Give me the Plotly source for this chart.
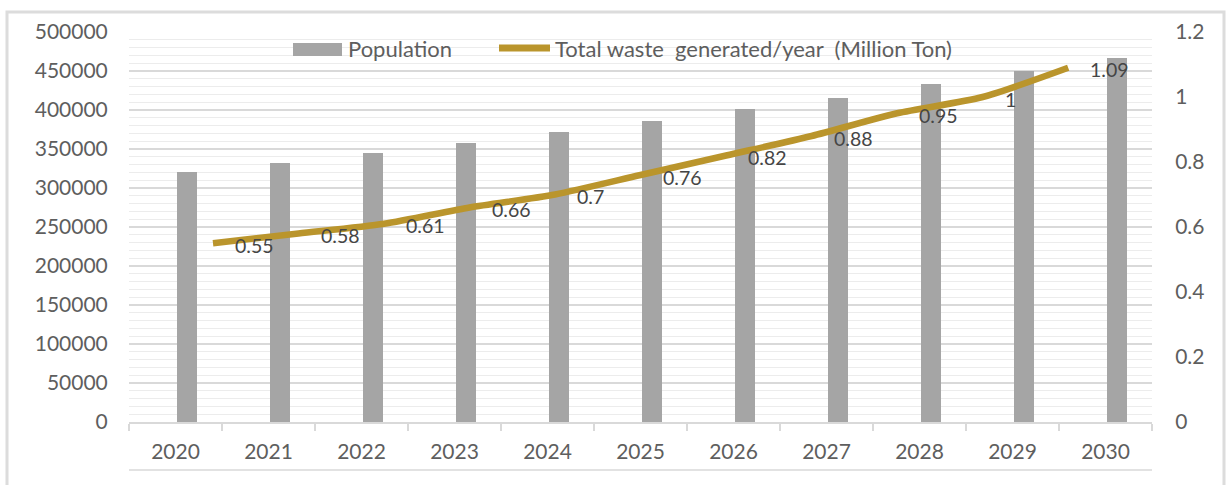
import plotly.graph_objects as go

years = ["2020", "2021", "2022", "2023", "2024", "2025", "2026", "2027", "2028", "2029", "2030"]
year_nums = [2020, 2021, 2022, 2023, 2024, 2025, 2026, 2027, 2028, 2029, 2030]
population = [320000, 332000, 344500, 357500, 371500, 386000, 401500, 416000, 433500, 450000, 467000]
waste = [0.55, 0.58, 0.61, 0.66, 0.7, 0.76, 0.82, 0.88, 0.95, 1, 1.09]
waste_labels = ["0.55", "0.58", "0.61", "0.66", "0.7", "0.76", "0.82", "0.88", "0.95", "1", "1.09"]

BAR_COLOR = "#A5A5A5"
LINE_COLOR = "#BA952C"
TEXT = "#5E5E5E"
GRID = "#D9D9D9"
FONT = "Lato"

W, H = 1227, 485
L, R, T, B = 129, 75, 32, 63
PW, PH = W - L - R, H - T - B


def px(x):
    return (x - L) / PW


def py(y):
    return (H - B - y) / PH


fig = go.Figure()
fig.add_trace(go.Bar(
    x=years, y=population, name="Population",
    marker=dict(color=BAR_COLOR, line=dict(width=0)),
    offset=0.02, width=0.21, showlegend=False,
))
fig.add_trace(go.Scatter(
    x=year_nums, y=waste, name="Total waste  generated/year  (Million Ton)",
    mode="lines", line=dict(color=LINE_COLOR, width=6.5, shape="spline", smoothing=0.7),
    xaxis="x2", yaxis="y2", showlegend=False,
))

for xv, yv, lab in zip(year_nums, waste, waste_labels):
    fig.add_annotation(x=xv, y=yv, xref="x2", yref="y2", text=lab, showarrow=False,
                       xanchor="left", yanchor="middle", xshift=20, yshift=-2,
                       font=dict(family=FONT, size=19.5, color="#454545"))

# manual legend
fig.add_shape(type="rect", xref="paper", yref="paper", x0=px(293), x1=px(342), y0=py(56), y1=py(43),
              fillcolor=BAR_COLOR, line=dict(width=0))
fig.add_annotation(xref="paper", yref="paper", x=px(346), y=py(49), text="Population", showarrow=False,
                   xanchor="left", yanchor="middle", font=dict(family=FONT, size=22, color=TEXT))
fig.add_shape(type="line", xref="paper", yref="paper", x0=px(499), x1=px(550), y0=py(48), y1=py(48),
              line=dict(color=LINE_COLOR, width=7))
fig.add_annotation(xref="paper", yref="paper", x=px(553), y=py(49),
                   text="Total waste\u00a0\u00a0generated/year\u00a0\u00a0(Million Ton)", showarrow=False,
                   xanchor="left", yanchor="middle", font=dict(family=FONT, size=22, color=TEXT))

# outer border and bottom line
fig.add_shape(type="rect", xref="paper", yref="paper", x0=px(7), x1=px(1224), y0=py(500), y1=py(12),
              line=dict(color="#DCDCDC", width=3), layer="below")
fig.add_shape(type="line", xref="paper", yref="paper", x0=0, x1=1, y0=py(470), y1=py(470),
              line=dict(color=GRID, width=1.5))

fig.update_layout(
    width=W, height=H,
    margin=dict(l=L, r=R, t=T, b=B),
    paper_bgcolor="white", plot_bgcolor="white",
    font=dict(family=FONT, color=TEXT),
    xaxis=dict(type="category", range=[-0.5, 10.5], showline=True, linecolor=GRID, linewidth=1.5,
               ticks="outside", tickson="boundaries", ticklen=7, tickcolor=GRID, tickwidth=1.5,
               showgrid=False, tickfont=dict(family=FONT, size=21, color=TEXT), ticklabelstandoff=10),
    xaxis2=dict(overlaying="x", range=[2020 - 0.982, 2030 + 0.98], visible=False),
    yaxis=dict(range=[0, 500000], dtick=50000, tickformat="d", showgrid=True, gridcolor=GRID,
               gridwidth=1.5, zeroline=False, showline=False, ticks="outside", ticklen=16,
               tickcolor="rgba(0,0,0,0)", tickfont=dict(family=FONT, size=21, color=TEXT),
               minor=dict(dtick=10000, showgrid=True, gridcolor="#ECECEC", gridwidth=1)),
    yaxis2=dict(range=[0, 1.2], dtick=0.2, overlaying="y", side="right", showgrid=False,
                zeroline=False, showline=False, ticks="outside", ticklen=18,
                tickcolor="rgba(0,0,0,0)", tickfont=dict(family=FONT, size=21, color=TEXT)),
    bargap=0,
)

fig.write_html("out.html")
